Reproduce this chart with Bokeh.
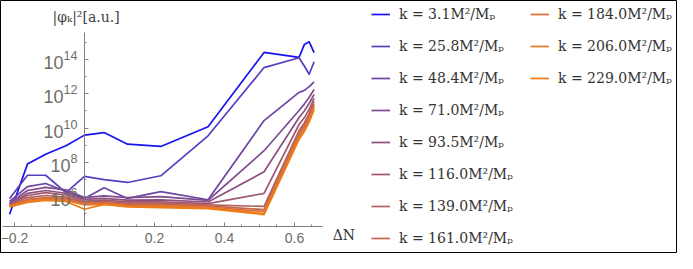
from bokeh.plotting import figure
from bokeh.models import (FixedTicker, LogTickFormatter, Range1d, Legend, LegendItem, Label)
from bokeh.embed import file_html
from bokeh.resources import INLINE

# ---- data (y values given as log10 exponents) ----
dN = [-0.214, -0.163, -0.111, -0.053, 0.0, 0.056, 0.123, 0.218, 0.353, 0.513, 0.613, 0.628, 0.642, 0.656]

k_values = [3.1, 25.8, 48.4, 71.0, 93.5, 116.0, 139.0, 161.0, 184.0, 206.0, 229.0]

exp_k3_1   = [4.98, 7.90, 8.48, 8.97, 9.59, 9.74, 9.06, 8.93, 10.08, 14.41, 14.12, 14.87, 15.03, 14.40]
exp_k25_8  = [5.89, 7.25, 7.25, 6.24, 7.18, 7.00, 6.83, 7.22, 9.55, 13.53, 14.10, 13.62, 13.14, 13.87]
exp_k48_4  = [5.72, 6.59, 6.77, 6.30, 5.90, 6.52, 5.90, 6.30, 5.82, 10.44, 12.08, 12.20, 12.42, 12.70]
exp_k71_0  = [5.62, 6.36, 6.54, 6.40, 5.95, 6.05, 5.95, 6.00, 5.78, 8.68, 11.03, 11.40, 11.80, 12.25]
exp_k93_5  = [5.58, 6.19, 6.36, 6.20, 5.84, 5.90, 5.80, 5.82, 5.69, 7.45, 10.62, 11.00, 11.45, 11.96]
exp_k116_0 = [5.55, 6.07, 6.24, 6.10, 5.75, 5.80, 5.70, 5.70, 5.60, 6.19, 10.21, 10.60, 11.10, 11.73]
exp_k139_0 = [5.52, 5.95, 6.07, 5.98, 5.68, 5.72, 5.62, 5.62, 5.52, 5.43, 9.86, 10.30, 10.85, 11.55]
exp_k161_0 = [5.49, 5.84, 5.95, 5.90, 5.62, 5.66, 5.55, 5.55, 5.46, 5.25, 9.69, 10.15, 10.70, 11.43]
exp_k184_0 = [5.46, 5.78, 5.90, 5.84, 5.57, 5.60, 5.50, 5.48, 5.40, 5.14, 9.57, 10.00, 10.55, 11.30]
exp_k206_0 = [5.43, 5.72, 5.84, 5.78, 5.52, 5.55, 5.45, 5.42, 5.35, 5.02, 9.45, 9.90, 10.45, 11.20]
exp_k229_0 = [5.40, 5.66, 5.78, 5.72, 5.27, 5.55, 5.40, 5.36, 5.30, 4.96, 9.34, 9.80, 10.35, 11.08]

series = [exp_k3_1, exp_k25_8, exp_k48_4, exp_k71_0, exp_k93_5, exp_k116_0,
          exp_k139_0, exp_k161_0, exp_k184_0, exp_k206_0, exp_k229_0]

colors = ["#1414f0", "#5a3cc0", "#6e44a4", "#7e4a90", "#8e5080", "#a05870",
          "#b06060", "#c4684c", "#d87038", "#e87828", "#f07c14"]

x_major_ticks = [-0.2, 0.2, 0.4, 0.6]
x_minor_ticks = [-0.15, -0.1, -0.05, 0.05, 0.1, 0.15, 0.25, 0.3, 0.35, 0.45, 0.5, 0.55, 0.65]
y_major_exps = [6, 8, 10, 12, 14]
y_minor_exps = [5, 7, 9, 11, 13, 15]

# ---- figure ----
p = figure(width=677, height=253, output_backend="svg", toolbar_location=None,
           y_axis_type="log",
           x_range=Range1d(-0.24, 1.6943), y_range=Range1d(10 ** 2.688, 10 ** 17.44),
           min_border=0, min_border_left=0, min_border_right=0,
           min_border_top=0, min_border_bottom=0)
p.xgrid.visible = False
p.ygrid.visible = False
p.outline_line_color = "black"
p.outline_line_width = 1
p.background_fill_color = "white"
p.border_fill_color = "white"

axis_color = "#808080"
label_color = "#6e6e66"

xa = p.xaxis[0]
xa.fixed_location = 10 ** 4.26
xa.bounds = (-0.234, 0.68)
xa.ticker = FixedTicker(ticks=x_major_ticks, minor_ticks=x_minor_ticks)
xa.major_label_overrides = {-0.2: "\u22120.2"}
xa.axis_line_color = axis_color
xa.major_tick_line_color = axis_color
xa.minor_tick_line_color = axis_color
xa.major_tick_in = 4
xa.major_tick_out = 0
xa.minor_tick_in = 2
xa.minor_tick_out = 0
xa.major_label_text_font = "Liberation Sans"
xa.major_label_text_font_size = "14px"
xa.major_label_text_color = label_color
xa.major_label_standoff = 6

ya = p.yaxis[0]
ya.fixed_location = 0
ya.bounds = (10 ** 4.26, 10 ** 15.57)
ya.ticker = FixedTicker(ticks=[10.0 ** e for e in y_major_exps],
                        minor_ticks=[10.0 ** e for e in y_minor_exps])
ya.formatter = LogTickFormatter()
ya.axis_line_color = axis_color
ya.major_tick_line_color = axis_color
ya.minor_tick_line_color = axis_color
ya.major_tick_in = 4
ya.major_tick_out = 0
ya.minor_tick_in = 2
ya.minor_tick_out = 0
ya.major_label_text_font = "Liberation Sans"
ya.major_label_text_font_size = "18px"
ya.major_label_text_color = label_color
ya.major_label_standoff = 7

renderers = []
for exps, c in zip(series, colors):
    ys = [10 ** e for e in exps]
    r = p.line(dN, ys, line_color=c, line_width=1.7, line_join="round")
    renderers.append(r)

labels = ["k = %.1fM\u00b2/M\u209a" % k for k in k_values]
items = [LegendItem(label=l, renderers=[r]) for l, r in zip(labels, renderers)]


def make_legend(its, loc):
    lg = Legend(items=its, location=loc, orientation="vertical",
                glyph_width=19, glyph_height=20, label_height=20, spacing=12,
                label_standoff=9, padding=0, margin=0,
                border_line_color=None, background_fill_alpha=0,
                label_text_font="DejaVu Serif", label_text_font_size="14px",
                label_text_color="#333333")
    return lg


leg1 = make_legend(items[:8], (371, 5))
leg2 = make_legend(items[8:], (530, 165))
p.add_layout(leg1, "center")
p.add_layout(leg2, "center")

ylab = Label(x=-0.0914, y=10 ** 16.45, text="|\u03c6\u2096|\u00b2[a.u.]",
             text_font="DejaVu Serif", text_font_size="14px",
             text_color="#444444", text_baseline="middle", text_align="left")
xlab = Label(x=0.709, y=10 ** 3.74, text="\u0394N",
             text_font="DejaVu Serif", text_font_size="14px",
             text_color="#333333", text_baseline="middle", text_align="left")
p.add_layout(ylab)
p.add_layout(xlab)

open("out.html", "w").write(file_html(p, INLINE))
